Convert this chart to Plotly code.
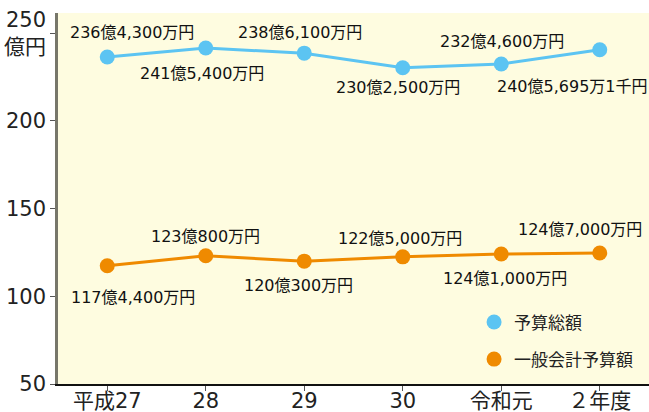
import plotly.graph_objects as go

categories = ["平成27", "28", "29", "30", "令和元", "２年度"]
total_budget = [236.43, 241.54, 238.61, 230.25, 232.46, 240.5695]
general_budget = [117.44, 123.08, 120.03, 122.50, 124.10, 124.70]
total_labels = ["236億4,300万円", "241億5,400万円", "238億6,100万円",
                "230億2,500万円", "232億4,600万円", "240億5,695万1千円"]
general_labels = ["117億4,400万円", "123億800万円", "120億300万円",
                  "122億5,000万円", "124億1,000万円", "124億7,000万円"]
series_names = ["予算総額", "一般会計予算額"]
y_ticks = [50, 100, 150, 200, 250]
y_ticktext = ["50", "100", "150", "200", "250<br>億円"]

BLUE = "#5cc4f2"
ORANGE = "#ef8a00"
FONT = "DejaVu Sans, Noto Sans CJK JP"
CJK = "Noto Sans CJK JP"

fig = go.Figure()
fig.add_trace(go.Scatter(x=categories, y=total_budget, mode="lines+markers",
                         line=dict(color=BLUE, width=3),
                         marker=dict(color=BLUE, size=15), showlegend=False))
fig.add_trace(go.Scatter(x=categories, y=general_budget, mode="lines+markers",
                         line=dict(color=ORANGE, width=3),
                         marker=dict(color=ORANGE, size=15), showlegend=False))
# legend entries (dot only)
for name, col in zip(series_names, [BLUE, ORANGE]):
    fig.add_trace(go.Scatter(x=[None], y=[None], mode="markers", name=name,
                             legendgroup=name,
                             marker=dict(color=col, size=15)))

total_shifts = [(25, 24), (-4, -25), (-4, 21), (-5, -20), (1, 22), (-27, -37)]
general_shifts = [(26, -32), (0, 19), (-6, -24), (-3, 18), (4, -24), (-20, 23)]

annotations = []
for i, (val, lab, (dx, dy)) in enumerate(zip(total_budget, total_labels, total_shifts)):
    annotations.append(dict(x=i, y=val, text=lab, showarrow=False,
                            xshift=dx, yshift=dy,
                            font=dict(family=FONT, size=16, color="#111")))
for i, (val, lab, (dx, dy)) in enumerate(zip(general_budget, general_labels, general_shifts)):
    annotations.append(dict(x=i, y=val, text=lab, showarrow=False,
                            xshift=dx, yshift=dy,
                            font=dict(family=FONT, size=16, color="#111")))

fig.update_layout(
    width=649, height=412,
    margin=dict(l=58, r=0, t=13, b=28),
    paper_bgcolor="white",
    plot_bgcolor="#fefce0",
    font=dict(family=FONT, color="#222"),
    annotations=annotations,
    legend=dict(x=0.704, y=0.116, xanchor="left", yanchor="middle",
                bgcolor="rgba(0,0,0,0)", font=dict(family=CJK, size=17, color="#222"),
                tracegroupgap=12, itemwidth=30),
)
fig.update_xaxes(type="category", range=[-0.5, 5.5], showgrid=False, automargin=False,
                 showline=True, linecolor="#111", linewidth=1.5,
                 ticks="outside", ticklen=5, tickcolor="#555",
                 ticklabelstandoff=-8,
                 tickfont=dict(family=FONT, size=21, color="#222"))
fig.update_yaxes(range=[50, 261.5], tickvals=y_ticks, ticktext=y_ticktext,
                 showgrid=False, automargin=False,
                 showline=True, linecolor="#77776a", linewidth=2.5,
                 ticks="outside", ticklen=5, tickcolor="#555",
                 tickfont=dict(family=FONT, size=21, color="#222"),
                 zeroline=False)

fig.write_html("out.html")
